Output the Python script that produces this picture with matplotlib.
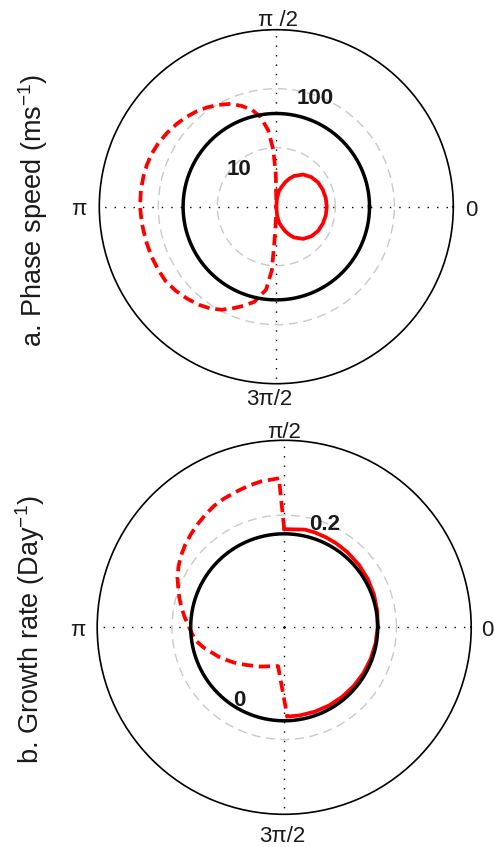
import numpy as np
import matplotlib
matplotlib.use('Agg')
import matplotlib.pyplot as plt

plt.rcParams['font.family'] = ['Liberation Sans', 'DejaVu Sans']
plt.rcParams['mathtext.fontset'] = 'custom'
plt.rcParams['mathtext.rm'] = 'Liberation Sans'
plt.rcParams['mathtext.it'] = 'Liberation Sans:italic'
plt.rcParams['mathtext.bf'] = 'Liberation Sans:bold'

# ---------------- data ----------------
# Panel a: phase speed (m/s), log radial axis
a_rlim = (1, 1000)
a_ring_values = [10, 100]
a_ring_labels = ['10', '100']
a_ref_value = 38
a_loop_theta_deg = [90, 85, 80, 75, 70, 65, 60, 50, 40, 30, 20, 10, 0,
                    -10, -20, -30, -40, -50, -60, -65, -70, -75, -80, -85, -90]
a_loop_speed = [1.0, 1.42, 1.87, 2.23, 2.76, 3.35, 4.0, 5.15, 6.0, 6.6, 6.9, 7.1, 7.17,
                7.1, 6.9, 6.6, 6.0, 5.15, 4.0, 3.35, 2.76, 2.23, 1.87, 1.42, 1.0]
a_dash_theta_deg = [90, 91, 93, 96, 100, 104, 109, 114, 120, 125, 130, 135, 140, 146,
                    152, 157, 162, 167, 173, 180, 186, 190, 196, 202, 208, 214, 220,
                    226, 232, 237, 242, 247, 252, 257, 263, 266, 267, 270]
a_dash_speed = [1.3, 3.7, 9.2, 20, 35, 49, 64, 81, 98, 113, 128, 142, 156, 172,
                187, 197, 202, 204, 205, 204, 198, 194, 191, 189, 186, 182, 166,
                148, 130, 114, 95, 74, 58, 45, 26, 12, 3.7, 1.3]

# Panel b: growth rate (1/day), linear radial axis
b_rlim = (-1, 1)
b_ring_values = [0.2]
b_ring_labels = ['0.2']
b_ref_value = 0
b_ref_label = '0'
b_solid_theta_deg = [90, 78, 72, 65, 58, 50, 40, 30, 20, 10, 0, -10, -20, -30, -40,
                     -50, -60, -70, -80, -88]
b_solid_rate = [0.05, 0.068, 0.066, 0.061, 0.056, 0.05, 0.042, 0.033, 0.022, 0.011, 0.0,
                -0.008, -0.015, -0.021, -0.027, -0.032, -0.036, -0.04, -0.043, -0.045]
b_dash_theta_deg = [90, 92, 99, 104, 109, 115, 120, 125, 130, 135, 140, 145, 150, 155,
                    159, 164, 169, 174, 179, 184, 189, 194, 198, 204, 210, 217, 225,
                    238, 261, 272]
b_dash_rate = [0.05, 0.595, 0.58, 0.562, 0.54, 0.52, 0.50, 0.47, 0.44, 0.41, 0.38,
               0.345, 0.305, 0.26, 0.215, 0.168, 0.12, 0.072, 0.025, -0.012, -0.05,
               -0.11, -0.165, -0.23, -0.295, -0.36, -0.43, -0.505, -0.58, -0.045]

tick_theta_deg = [0, 90, 180, 270]
a_tick_labels = ['0', 'π /2', 'π', '3π/2']
b_tick_labels = ['0', 'π/2', 'π', '3π/2']
a_ylabel = 'a. Phase speed (ms$^{-1}$)'
b_ylabel = 'b. Growth rate (Day$^{-1}$)'

# ---------------- figure ----------------
W, H = 494, 847
fig = plt.figure(figsize=(W / 100, H / 100), dpi=100)

RED = '#ff0000'
GRAY = '#c9c9c5'
TXT = '#1a1a1a'
RED_LW = 2.7
BLACK_LW = 2.5
RED_DASH = (0, (3.0, 1.55))
GRAY_DASH = (0, (6.5, 4.0))


def fx(x):
    return x / W


def fy(y):
    return 1 - y / H


def make_polar(cx, cy, R, rlim, log):
    ax = fig.add_axes([fx(cx - R), (H - cy - R) / H, 2 * R / W, 2 * R / H], projection='polar')
    if log:
        ax.set_rscale('log')
    ax.set_rlim(*rlim)
    ax.set_xticks(np.deg2rad(tick_theta_deg))
    ax.set_xticklabels([])
    ax.xaxis.grid(True, color='black', linestyle=(0, (1.0, 5.8)), linewidth=1.0)
    ax.spines['polar'].set_linewidth(1.2)
    ax.spines['polar'].set_color('black')
    ax.set_facecolor('white')
    return ax


theta_circle = np.linspace(0, 2 * np.pi, 721)

# Panel a
axa = make_polar(276.3, 206.7, 177, a_rlim, True)
axa.set_yticks(a_ring_values)
axa.set_yticklabels([])
axa.yaxis.grid(True, color=GRAY, linestyle=GRAY_DASH, linewidth=1.0)
axa.plot(np.deg2rad(a_dash_theta_deg), a_dash_speed, color=RED, lw=RED_LW,
         linestyle=RED_DASH, zorder=3)
axa.plot(np.deg2rad(a_loop_theta_deg), a_loop_speed, color=RED, lw=RED_LW, zorder=3)
axa.plot(theta_circle, np.full_like(theta_circle, a_ref_value), color='black',
         lw=BLACK_LW, zorder=4)

# Panel b
axb = make_polar(284.2, 627.3, 187, b_rlim, False)
axb.set_yticks(b_ring_values)
axb.set_yticklabels([])
axb.yaxis.grid(True, color=GRAY, linestyle=GRAY_DASH, linewidth=1.0)
axb.plot(np.deg2rad(b_dash_theta_deg), b_dash_rate, color=RED, lw=RED_LW,
         linestyle=RED_DASH, zorder=3)
axb.plot(np.deg2rad(b_solid_theta_deg), b_solid_rate, color=RED, lw=RED_LW, zorder=3)
axb.plot(theta_circle, np.full_like(theta_circle, b_ref_value), color='black',
         lw=BLACK_LW, zorder=4)

# tick labels (pixel baselines)
a_tick_pos = [(471.7, 216), (277.5, 26), (79.3, 215), (269.5, 405)]
b_tick_pos = [(487.8, 636), (283.8, 438), (78.3, 636), (282.5, 842)]
for lab, (x, y) in zip(a_tick_labels, a_tick_pos):
    fig.text(fx(x), fy(y), lab, ha='center', va='baseline', fontsize=16, color=TXT)
for lab, (x, y) in zip(b_tick_labels, b_tick_pos):
    fig.text(fx(x), fy(y), lab, ha='center', va='baseline', fontsize=16, color=TXT)

# ring labels
a_ring_pos = [(238.7, 175), (315, 104.3)]
for lab, (x, y) in zip(a_ring_labels, a_ring_pos):
    fig.text(fx(x), fy(y), lab, ha='center', va='baseline', fontsize=16,
             fontweight='bold', color=TXT)
fig.text(fx(324.2), fy(530), b_ring_labels[0], ha='center', va='baseline', fontsize=16,
         fontweight='bold', color=TXT)
fig.text(fx(239.3), fy(706), b_ref_label, ha='center', va='baseline', fontsize=16,
         fontweight='bold', color=TXT)

# y labels
fig.text(fx(33), fy(210.8), a_ylabel, rotation=90, ha='center', va='center',
         fontsize=19.5, color=TXT)
fig.text(fx(30), fy(630), b_ylabel, rotation=90, ha='center', va='center',
         fontsize=19.5, color=TXT)

fig.savefig('out.png', dpi=100, facecolor='white')
